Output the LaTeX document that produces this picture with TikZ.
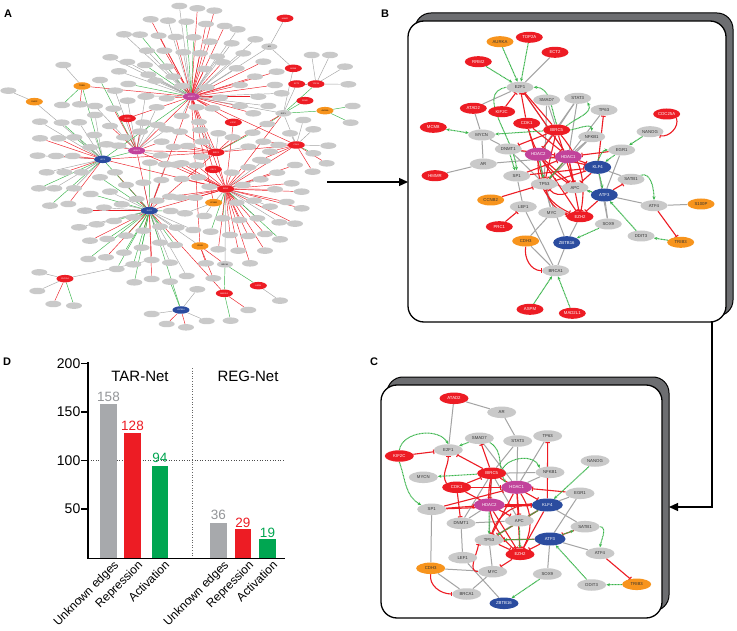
\documentclass[tikz,border=0pt]{standalone}
\usepackage{fontspec}
\setmainfont{Liberation Sans}
\usetikzlibrary{shapes.geometric,arrows.meta}
\definecolor{ngray}{HTML}{C9C9C9}
\definecolor{egray}{HTML}{A4A4A4}
\definecolor{redA}{HTML}{ED1C24}
\definecolor{grnA}{HTML}{39B54A}
\definecolor{grnD}{HTML}{00A651}
\definecolor{orgA}{HTML}{F7941D}
\definecolor{bluA}{HTML}{2B4C9F}
\definecolor{magA}{HTML}{C2439B}
\definecolor{barg}{HTML}{A7A9AC}
\definecolor{txtg}{HTML}{939598}
\definecolor{frameg}{HTML}{6D6E71}
\pgfdeclarelayer{frames}\pgfdeclarelayer{edges}
\pgfsetlayers{frames,edges,main}
\tikzset{
  an/.style={ellipse,minimum width=16pt,minimum height=6.5pt,inner sep=0pt,fill=ngray,font=\fontsize{2}{2.4}\selectfont},
  ah/.style={an,minimum width=17pt,minimum height=7.5pt,text=white},
  eg/.style={draw=egray,line width=0.45pt},
  er/.style={draw=redA,line width=0.45pt},
  ea/.style={draw=grnA,line width=0.45pt},
  bnode/.style={ellipse,minimum width=27pt,minimum height=11pt,inner sep=0pt,font=\fontsize{4.3}{5}\selectfont},
  ng/.style={bnode,fill=ngray,text=black!80},
  nr/.style={bnode,fill=redA,text=white},
  no/.style={bnode,fill=orgA,text=black!80},
  nb/.style={bnode,fill=bluA,text=white},
  nm/.style={bnode,fill=magA,text=white},
  bighub/.style={minimum height=13pt},
  ge/.style={draw=egray,line width=1pt},
  re/.style={draw=redA,line width=1.1pt,-{Bar[width=4.5pt]}},
  ac/.style={draw=grnA,line width=1pt,dash pattern=on 1pt off 0.5pt,-{Stealth[length=3.5pt,width=3pt]}},
  acc/.style={ac,{Stealth[length=3.5pt,width=3pt]}-{Stealth[length=3.5pt,width=3pt]}},
  plab/.style={font=\fontsize{11}{12}\selectfont\bfseries},
  frameback/.style={draw=black,fill=frameg,line width=1pt,rounded corners=16pt},
  framefront/.style={draw=black,fill=white,line width=1.3pt,rounded corners=16pt},
  bigarrow/.style={line width=1.2pt,-{Triangle[length=9pt,width=8pt]}},
}
\def\listA{538/18/aH1/eg,592/25/aH1/er,643/32/aH1/er,452/58/aH1/er,504/62/aH1/eg,559/65/aH1/ea,618/72/aH1/er,674/78/aH1/er,713/88/aH1/eg,
372/103/aH1/eg,420/104/aH1/ea,476/107/aH1/er,527/111/aH1/er,581/112/aH1/ea,630/125/aH1/er,695/130/aH1/eg,766/118/aH1/eg,
441/152/aH1/eg,493/152/aH1/er,550/157/aH1/eg,600/160/aH1/er,651/170/aH1/eg,730/160/aH1/eg,331/172/aH1/eg,382/186/aH1/eg,
435/195/aH1/ea,500/200/aH1/eg,614/207/aH1/er,668/187/aH1/er,710/205/aH1/eg,790/185/aH1/er,357/214/aH1/eg,445/224/aH1/eg,
520/230/aH1/eg,765/230/aH1/er,830/215/aH1/er,385/252/aH1/ea,466/242/aH1/eg,545/258/aH1/er,620/262/aH1/er,720/255/aH1/er,
825/255/aH1/er,440/288/aH1/eg,500/295/aH1/er,660/293/aH1/er,775/290/aH1/er,845/280/aH1/eg,720/318/aH1/er,805/318/aH1/eg,760/340/aH1/er,
190/195/aTR/eg,25/272/aS1/eg,186/315/aTR/ea,240/313/aTR/er,300/240/aH2/ea,345/272/aH2/eg,383/302/aH2/eg,436/290/aH2/eg,
470/322/aH2/eg,340/326/aH2/er,285/318/aH2/eg,285/345/aA3/eg,330/378/aH2/er,430/368/aH2/eg,420/395/aH2/er,473/375/aH2/eg,
237/367/aA3/eg,185/368/aA3/ea,120/365/aA3/eg,175/415/aA3/er,223/412/aA3/ea,120/415/aA3/er,270/442/aA3/eg,283/405/aA3/eg,
320/433/aH2/er,372/412/aH2/eg,355/437/aH2/eg,113/467/aA3/eg,168/468/aA3/er,218/468/aA3/er,
590/322/aH1/er,637/325/aH1/er,545/348/aH1/eg,597/366/aH1/er,500/388/aH2/eg,540/395/aBI/er,600/390/aBI/eg,485/425/aH2/er,
521/441/aBI/er,563/438/aBI/er,607/425/aBI/eg,483/466/aH2/eg,530/494/aEZ/er,603/470/aBI/er,450/488/aK4/ea,497/493/aK4/eg,
545/490/aEZ/er,590/496/aEZ/er,484/540/aK4/er,545/537/aEZ/er,595/532/aEZ/er,470/602/aK4/eg,510/590/aEZ/er,540/593/aEZ/er,
585/593/aEZ/er,512/633/aK4/ea,555/640/aCN/eg,
655/400/aBI/eg,698/412/aBI/er,745/440/aBI/eg,758/398/aBI/ea,802/372/aE2/ea,790/425/aCD/er,835/435/aCD/eg,810/455/aCD/er,
780/480/aCD/er,870/400/aCD/eg,910/360/aCD/eg,940/388/aCD/eg,985/437/aCD/eg,940/460/aCD/ea,980/490/aCD/er,
935/165/aR4/eg,990/165/aR4/eg,1035/200/aR4/eg,1045/253/aR4/eg,1058/318/aAU/ea,1052/368/aAU/ea,
695/518/aEZ/er,745/502/aEZ/er,790/483/aEZ/eg,885/495/aEZ/er,938/515/aCD/er,832/518/aEZ/er,782/538/aEZ/eg,875/550/aEZ/er,
728/555/aEZ/eg,825/568/aEZ/er,905/575/aEZ/er,628/560/aEZ/er,710/608/aEZ/er,762/602/aEZ/eg,810/620/aEZ/eg,860/606/aEZ/er,
905/625/aEZ/er,668/655/aEZ/ea,718/660/aEZ/er,772/655/aEZ/eg,838/667/aEZ/eg,885/671/aEZ/er,613/648/aCN/eg,580/690/aK4/eg,
632/695/aEZ/ea,690/705/aEZ/er,745/708/aEZ/er,795/702/aEZ/er,840/718/aEZ/ea,655/748/aEZ/er,715/752/aEZ/er,795/752/aEZ/er,
618/790/aCH/er,750/790/aEZ/er,640/835/aCH/er,560/828/aK4/eg,592/868/aZB/eg,745/930/aMA/er,840/902/aAS/eg,692/962/aMA/ea,620/963/aZB/eg,
140/517/aA3/eg,193/517/aA3/er,245/517/aA3/eg,300/532/aK4/ea,345/517/aK4/er,430/548/aK4/eg,117/565/aA3/ea,163/565/aA3/eg,
222/565/aA3/eg,378/555/aK4/eg,150/617/aA3/ea,205/612/aA3/er,272/582/aK4/ea,330/575/aK4/eg,255/632/aK4/er,312/623/aK4/eg,
365/613/aK4/eg,410/597/aK4/er,237/682/aK4/eg,290/673/aK4/eg,342/663/aK4/ea,400/652/aK4/eg,430/692/aK4/er,480/680/aK4/ea,
530/683/aK4/eg,270/722/aK4/er,322/717/aK4/ea,378/707/aK4/ea,425/743/aK4/ea,480/728/aK4/eg,525/735/aK4/ea,265/777/aK4/ea,
318/772/aK4/er,372/758/aK4/ea,400/793/aK4/ea,455/780/aK4/er,510/788/aK4/eg,350/807/aK4/ea,118/817/aCC/eg,112/873/aCC/eg,
160/912/aCC/er,222/917/aCC/ea,403/847/aK4/ea,455/837/aK4/er,510/845/aZB/ea,455/942/aZB/eg,500/972/aZB/er,558/982/aZB/er}
\begin{document}
\begin{tikzpicture}[x=1pt,y=-1pt]
\useasboundingbox (0,0) rectangle (737,631);
\begin{pgfonlayer}{frames}
\fill[white] (0,0) rectangle (737,631);
\draw[frameback] (415,13) rectangle (733,316);
\draw[framefront] (408,21) rectangle (726,322);
\draw[frameback] (387,377) rectangle (669,611);
\draw[framefront] (381,385) rectangle (662,618);
\end{pgfonlayer}
% panel letters
\node[plab] (labA) at (8,13.5) {A};
\node[plab] (labB) at (385,13.5) {B};
\node[plab] (labC) at (374,361.5) {C};
\node[plab] (labD) at (7,361.5) {D};
% connecting arrows
\coordinate (arA1) at (327,182);
\coordinate (arA2) at (408,182);
\coordinate (arB1) at (712,322);
\coordinate (arB2) at (712,507);
\coordinate (arB3) at (669,507);
\draw[bigarrow] (arA1) -- (arA2);
\draw[bigarrow] (arB1) -- (arB2) -- (arB3);
% ================= PANEL A =================
\begin{scope}[x=0.33333pt,y=-0.33333pt]
\node[ah,fill=magA] (aH1) at (574,290) {HDAC1};
\node[ah,fill=magA] (aH2) at (410,452) {HDAC2};
\node[ah,fill=bluA] (aA3) at (308,478) {ATF3};
\node[ah,fill=bluA] (aK4) at (448,632) {KLF4};
\node[ah,fill=bluA] (aZB) at (543,930) {ZBTB16};
\node[ah,fill=redA] (aBI) at (648,457) {BIRC5};
\node[ah,fill=redA] (aEZ) at (677,567) {EZH2};
\node[ah,fill=redA] (aCD) at (889,435) {CDK1};
\node[ah,fill=redA] (aPR) at (640,508) {PRC1};
\node[ah,fill=redA] (aKI) at (700,367) {KIF2C};
\node[ah,fill=redA] (aAT) at (382,355) {ATAD2};
\node[ah,fill=redA] (aHM) at (855,55) {HMMR};
\node[ah,fill=redA] (aR2) at (880,205) {MCM8};
\node[ah,fill=redA] (aR3) at (890,252) {ECT2};
\node[ah,fill=redA] (aR4) at (948,252) {TOP2A};
\node[ah,fill=redA] (aR5) at (915,302) {RRM2};
\node[ah,fill=redA] (aCC) at (195,836) {CDC25A};
\node[ah,fill=redA] (aMA) at (673,880) {MAD2L1};
\node[ah,fill=redA] (aAS) at (775,857) {ASPM};
\node[ah,fill=orgA,text=black] (aTR) at (246,258) {TRIB3};
\node[ah,fill=orgA,text=black] (aS1) at (103,305) {S100P};
\node[ah,fill=orgA,text=black] (aAU) at (975,332) {AURKA};
\node[ah,fill=orgA,text=black] (aCN) at (641,608) {CCNB2};
\node[ah,fill=orgA,text=black] (aCH) at (600,738) {CDH3};
\node[an] (aE2) at (850,340) {E2F1};
\node[an] (aAR) at (808,140) {AR};
\node[an] (aBR) at (675,793) {BRCA1};
\foreach \x/\y/\h/\c [count=\i] in \listA {
  \node[an] (a\i) at (\x,\y) {};
  \begin{pgfonlayer}{edges}\draw[\c] (a\i) -- (\h);\end{pgfonlayer}
}
\begin{pgfonlayer}{edges}
\foreach \p/\q/\c in {aH1/aEZ/er,aH1/aBI/er,aH1/aK4/er,aH1/aH2/er,aH2/aBI/er,aBI/aEZ/er,aEZ/aK4/er,aA3/aH2/ea,aA3/aK4/ea,
 aH1/aE2/eg,aCD/aE2/eg,aAU/aE2/ea,aR5/aE2/ea,aR2/aAR/eg,aAR/aH1/eg,aAR/aHM/eg,aCD/aBI/er,aK4/aZB/ea,aCH/aBR/er,aMA/aBR/ea,
 aAS/aBR/ea,aEZ/aBR/eg,aPR/aEZ/er,aPR/aH1/er,aKI/aH1/er,aKI/aEZ/er,aAT/aH1/er,aAT/aH2/er,aCN/aEZ/eg,aCN/aH1/er,aTR/aA3/ea,
 aS1/aA3/eg,aH2/aEZ/er,aH2/aK4/er,aK4/aBI/er,aK4/aCH/eg,aCH/aH1/er,aE2/aBI/er,aE2/aEZ/er,aR3/aE2/eg,aR4/aE2/ea,aR3/aR4/eg,
 aA3/aBI/er,aA3/aEZ/er,aH1/aCD/er,aMA/aK4/er,aTR/aH1/er,aH1/aA3/ea,aCC/a205/eg,aR2/aE2/eg,aCD/aEZ/er}
 \draw[\c] (\p) -- (\q);
\end{pgfonlayer}
\end{scope}
% ================= PANEL B =================
\node[no] (bAURKA) at (500,41.7) {AURKA};
\node[nr] (bTOP2A) at (529.3,37.3) {TOP2A};
\node[nr] (bECT2) at (555,52.3) {ECT2};
\node[nr] (bRRM2) at (478.3,61.7) {RRM2};
\node[ng] (bE2F1) at (520,87.3) {E2F1};
\node[ng] (bSMAD7) at (546.7,100) {SMAD7};
\node[ng] (bSTAT3) at (577.7,98.3) {STAT3};
\node[ng] (bTP63) at (604,110) {TP63};
\node[nr] (bATAD2) at (473.3,108.3) {ATAD2};
\node[nr] (bKIF2C) at (501.7,111.7) {KIF2C};
\node[nr] (bCDK1) at (526.7,123.3) {CDK1};
\node[nr] (bBIRC5) at (556.7,130) {BIRC5};
\node[nr] (bCDC25A) at (666.7,114) {CDC25A};
\node[ng] (bNANOG) at (650,131.7) {NANOG};
\node[nr] (bMCM8) at (433.3,127.3) {MCM8};
\node[ng] (bMYCN) at (481.7,135) {MYCN};
\node[ng] (bNFKB1) at (591.7,136.7) {NFKB1};
\node[ng] (bDNMT1) at (508.3,149) {DNMT1};
\node[nm,bighub] (bHDAC2) at (538.3,154.3) {HDAC2};
\node[nm,bighub] (bHDAC1) at (568.3,156.7) {HDAC1};
\node[ng] (bEGR1) at (621.7,150) {EGR1};
\node[ng] (bAR) at (483.3,164) {AR};
\node[nb,bighub] (bKLF4) at (597.7,167.3) {KLF4};
\node[nr] (bHMMR) at (435,175.7) {HMMR};
\node[ng] (bSP1) at (516.7,176) {SP1};
\node[ng] (bSATB1) at (631,179.3) {SATB1};
\node[ng] (bTP53) at (544.3,184) {TP53};
\node[ng] (bAPC) at (575,187.7) {APC};
\node[nb,bighub] (bATF3) at (604.3,195) {ATF3};
\node[no] (bCCNB2) at (490.7,200) {CCNB2};
\node[ng] (bLEF1) at (523.3,206.7) {LEF1};
\node[ng] (bMYC) at (551.7,212.7) {MYC};
\node[nr] (bEZH2) at (580,216.7) {EZH2};
\node[ng] (bATF4) at (654,205.7) {ATF4};
\node[no] (bS100P) at (701,204) {S100P};
\node[nr] (bPRC1) at (499.3,226.7) {PRC1};
\node[ng] (bSOX9) at (608.3,224) {SOX9};
\node[ng] (bDDIT3) at (641,236) {DDIT3};
\node[no] (bCDH3) at (525.7,241) {CDH3};
\node[nb,bighub] (bZBTB16) at (566.7,242.7) {ZBTB16};
\node[no] (bTRIB3) at (680.7,242.3) {TRIB3};
\node[ng] (bBRCA1) at (555.7,270.7) {BRCA1};
\node[nr] (bASPM) at (530,309.3) {ASPM};
\node[nr] (bMAD2L1) at (572.3,313.3) {MAD2L1};
\begin{pgfonlayer}{edges}
\foreach \p/\q in {ECT2/E2F1,E2F1/ATAD2,ATAD2/MYCN,MYCN/AR,AR/HMMR,MYCN/DNMT1,AR/HDAC1,SMAD7/BIRC5,STAT3/BIRC5,
 STAT3/HDAC1,STAT3/HDAC2,TP63/HDAC1,NFKB1/HDAC1,NFKB1/TP53,EGR1/ATF3,KLF4/SATB1,ATF3/ATF4,ATF4/S100P,ATF3/SOX9,
 ZBTB16/EZH2,ZBTB16/BRCA1,LEF1/BRCA1,CDH3/BRCA1,CDH3/MYC,SP1/LEF1,TP53/MYC,TP53/ZBTB16,TP53/APC,DNMT1/TP53,
 SMAD7/TP53,APC/ATF3,HDAC2/MYC,E2F1/HDAC1,DNMT1/HDAC2,SOX9/KLF4}
 \draw[ge] (b\p) -- (b\q);
\foreach \p/\q in {KIF2C/E2F1,CDK1/E2F1,BIRC5/E2F1,HDAC1/E2F1,CDK1/HDAC1,BIRC5/DNMT1,BIRC5/HDAC2,BIRC5/TP53,BIRC5/APC,
 HDAC1/TP53,HDAC1/EZH2,HDAC2/EZH2,HDAC2/KLF4,HDAC1/KLF4,KLF4/TP53,KLF4/TP63,EGR1/HDAC1,ATF3/SATB1,ATF3/EZH2,MYC/EZH2,
 CCNB2/TP53,PRC1/LEF1,ATF4/TRIB3,SP1/HDAC1,KLF4/APC,DNMT1/HDAC1,HDAC1/APC,CDK1/TP53,HDAC2/APC,SP1/KLF4}
 \draw[re] (b\p) -- (b\q);
\draw[re] (bBIRC5) to[bend left=25] (bEZH2);
\draw[re] (bAPC) to[bend left=40] (bTP53);
\draw[re] (bEZH2) to[bend left=30] (bTP53);
\draw[re] (bHDAC2) to[bend right=35] (bEZH2);
\draw[re] (bCDK1) to[bend right=20] (bAPC);
\draw[re] (bCDC25A.south east) to[out=-70,in=-10] (bNANOG.south east);
\draw[re] (bCDH3.south) to[out=-100,in=180] (bBRCA1.west);
\foreach \p/\q in {AURKA/E2F1,TOP2A/E2F1,RRM2/E2F1,BIRC5/MYCN,NANOG/EGR1,EGR1/KLF4,DDIT3/ATF3,TRIB3/DDIT3,SOX9/ZBTB16,
 ASPM/BRCA1,MAD2L1/BRCA1,HDAC2/TP53,KLF4/ATF3,ATF3/APC,DNMT1/SP1,HDAC1/TP53}
 \draw[ac] (b\p) -- (b\q);
\draw[acc] (bMCM8) -- (bMYCN);
\draw[ac] (bE2F1.west) to[out=190,in=95] (bSP1.north);
\draw[ac] (bBIRC5.north) to[out=110,in=0] (bE2F1.east);
\draw[ac] (bBIRC5.east) to[out=10,in=90] (bNFKB1.north);
\draw[ac] (bBIRC5.north east) to[out=40,in=-60] (bSTAT3.south east);
\draw[ac] (bSATB1.north east) to[out=20,in=90] (bATF4.north);
\draw[ac] (bKLF4.north) to[out=60,in=180] (bEGR1.west);
\end{pgfonlayer}
% ================= PANEL C =================
\begin{scope}[bnode/.append style={minimum width=29pt,minimum height=11.5pt}]
\node[nr] (cATAD2) at (454,398.3) {ATAD2};
\node[ng] (cAR) at (501.7,412.3) {AR};
\node[ng] (cSMAD7) at (479.3,438.3) {SMAD7};
\node[ng] (cSTAT3) at (517.7,441) {STAT3};
\node[ng] (cTP63) at (547.7,436) {TP63};
\node[ng] (cE2F1) at (448.3,450) {E2F1};
\node[nr] (cKIF2C) at (399.3,456) {KIF2C};
\node[nr] (cBIRC5) at (491.7,473.3) {BIRC5};
\node[ng] (cNFKB1) at (550,472.3) {NFKB1};
\node[ng] (cMYCN) at (423.3,477.3) {MYCN};
\node[nr] (cCDK1) at (456.7,487.3) {CDK1};
\node[nm,minimum width=31pt,minimum height=13pt] (cHDAC1) at (516.7,487.3) {HDAC1};
\node[ng] (cSP1) at (431.7,509.3) {SP1};
\node[nm,minimum width=31pt,minimum height=13pt] (cHDAC2) at (489.3,505) {HDAC2};
\node[nb,minimum width=31pt,minimum height=13pt] (cKLF4) at (547.3,505) {KLF4};
\node[ng] (cDNMT1) at (461,523.3) {DNMT1};
\node[ng] (cAPC) at (519.3,520.7) {APC};
\node[ng] (cTP53) at (489,540) {TP53};
\node[nb,minimum width=31pt,minimum height=13pt] (cATF3) at (550,539) {ATF3};
\node[nr] (cEZH2) at (520,554.3) {EZH2};
\node[ng] (cLEF1) at (462.7,557.7) {LEF1};
\node[no] (cCDH3) at (430.7,568.3) {CDH3};
\node[ng] (cMYC) at (492.7,571.7) {MYC};
\node[ng] (cSOX9) at (547.3,574) {SOX9};
\node[ng] (cBRCA1) at (466.7,594) {BRCA1};
\node[nb] (cZBTB16) at (504,603.3) {ZBTB16};
\node[ng] (cNANOG) at (595,461) {NANOG};
\node[ng] (cEGR1) at (580,493.3) {EGR1};
\node[ng] (cSATB1) at (585,526.7) {SATB1};
\node[ng] (cATF4) at (600,553.3) {ATF4};
\node[ng] (cDDIT3) at (591.7,585) {DDIT3};
\node[no] (cTRIB3) at (636.7,584.3) {TRIB3};
\end{scope}
\begin{pgfonlayer}{edges}
\foreach \p/\q in {ATAD2/AR,ATAD2/E2F1,AR/STAT3,STAT3/HDAC1,STAT3/BIRC5,SMAD7/HDAC1,TP63/HDAC1,NFKB1/HDAC1,NFKB1/BIRC5,
 SP1/CDH3,DNMT1/LEF1,DNMT1/HDAC2,LEF1/ZBTB16,CDH3/MYC,CDH3/BRCA1,MYC/BRCA1,MYC/TP53,EGR1/ATF3,EGR1/KLF4,KLF4/SATB1,
 ATF3/ATF4,ATF3/SOX9,TP53/APC,APC/KLF4,BIRC5/TP53,BIRC5/APC,DNMT1/APC,BIRC5/DNMT1}
 \draw[ge] (c\p) -- (c\q);
\foreach \p/\q in {KIF2C/E2F1,BIRC5/E2F1,BIRC5/SMAD7,CDK1/BIRC5,CDK1/HDAC1,BIRC5/HDAC2,SP1/HDAC1,SP1/HDAC2,SP1/KLF4,
 CDK1/DNMT1,HDAC1/TP53,HDAC1/EZH2,HDAC1/APC,HDAC2/EZH2,EGR1/HDAC1,KLF4/TP63,KLF4/EZH2,KLF4/TP53,ATF3/TP53,ATF3/EZH2,
 SATB1/ATF3,TP53/EZH2,EZH2/MYC,ATF4/TRIB3,BIRC5/KLF4,HDAC2/KLF4,CDK1/APC}
 \draw[re] (c\p) -- (c\q);
\draw[re] (cCDK1.north west) to[out=120,in=-90] (cE2F1.south);
\draw[re] (cMYC.west) to[out=180,in=-100] (cTP53.south west);
\draw[re] (cCDH3.south) to[out=-100,in=180] (cBRCA1.west);
\draw[re] (cHDAC1) to[bend left=30] (cEZH2);
\draw[re] (cBIRC5) to[bend right=30] (cEZH2);
\draw[re] (cKLF4) to[bend right=35] (cTP53);
\foreach \p/\q in {BIRC5/MYCN,NANOG/KLF4,DDIT3/ATF3,TRIB3/DDIT3,SOX9/ZBTB16,HDAC2/TP53,KLF4/TP53,ATF3/TP53,ATF3/SATB1,
 APC/EZH2,SMAD7/E2F1}
 \draw[ac] (c\p) -- (c\q);
\draw[ac] (cKIF2C.north) to[out=80,in=120] (cE2F1.north);
\draw[ac] (cKIF2C.south) to[out=-70,in=150] (cSP1.north west);
\draw[ac] (cBIRC5.north east) to[out=60,in=110] (cNFKB1.north west);
\draw[ac] (cSMAD7.south east) to[out=-30,in=120] (cHDAC1.north west);
\draw[ac] (cSATB1.east) to[out=0,in=80] (cATF4.north);
\end{pgfonlayer}
% ================= PANEL D =================
\draw[line width=0.6pt,dotted,black!70] (88,460.5) -- (285,460.5);
\draw[line width=0.6pt,dotted,black!60] (192,368) -- (192,558);
\fill[barg] (100,557.5) rectangle (117,404.2);
\fill[redA] (124,557.5) rectangle (141,433.3);
\fill[grnD] (152,557.5) rectangle (168,466.3);
\fill[barg] (210,557.5) rectangle (227,522.6);
\fill[redA] (235,557.5) rectangle (251,529.4);
\fill[grnD] (259,557.5) rectangle (276,539.1);
\draw[line width=1.4pt] (88,362) -- (88,558.5) -- (285,558.5);
\foreach \v/\yy in {200/363.5,150/412,100/460.5,50/509} {
  \draw[line width=1.4pt] (81,\yy) -- (88,\yy);
  \node[anchor=east,inner sep=0.5pt,font=\fontsize{14}{15}\selectfont] (tick\v) at (81,\yy) {\v};
}
\node[font=\fontsize{15}{16}\selectfont] (tarnet) at (140,376) {TAR-Net};
\node[font=\fontsize{15}{16}\selectfont] (regnet) at (248,376) {REG-Net};
\begin{scope}[every node/.style={anchor=base,inner sep=0pt,font=\fontsize{13.5}{14}\selectfont}]
\node[text=txtg] (v158) at (108.5,401) {158};
\node[text=redA] (v128) at (132.5,430.5) {128};
\node[text=grnD] (v94) at (160,462) {94};
\node[text=txtg] (v36) at (218.5,519.5) {36};
\node[text=redA] (v29) at (243,527) {29};
\node[text=grnD] (v19) at (267.5,537) {19};
\end{scope}
\begin{scope}[every node/.style={anchor=north east,rotate=45,inner sep=0.3pt,font=\fontsize{12}{12.5}\selectfont}]
\node (x1) at (113,559) {Unknown edges};
\node (x2) at (137,559) {Repression};
\node (x3) at (164,559) {Activation};
\node (x4) at (223,559) {Unknown edges};
\node (x5) at (248,559) {Repression};
\node (x6) at (272,559) {Activation};
\end{scope}
\end{tikzpicture}
\end{document}
